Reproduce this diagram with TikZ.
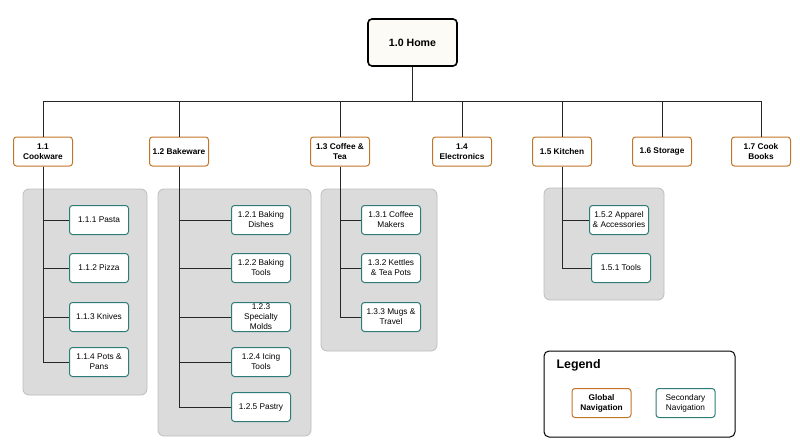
\documentclass[tikz,border=0pt]{standalone}
\usepackage{fontspec}
\setmainfont{Liberation Sans}
\definecolor{navorange}{HTML}{C27429}
\definecolor{navteal}{HTML}{2E7C78}
\definecolor{panelgray}{HTML}{DBDBDB}
\definecolor{paneledge}{HTML}{BDBDBD}
\definecolor{homefill}{HTML}{FDFBF5}

\begin{document}
\begin{tikzpicture}[x=1pt,y=-1pt,
  gnav/.style={draw=navorange,fill=white,rounded corners=3pt,line width=1pt,minimum width=59pt,minimum height=29pt,inner sep=1pt,align=center,font=\fontsize{8.3}{10}\selectfont\bfseries},
  snav/.style={draw=navteal,fill=white,rounded corners=3pt,line width=1pt,minimum width=59pt,minimum height=29pt,inner sep=1pt,align=center,font=\fontsize{8.3}{10}\selectfont},
  panel/.style={fill=panelgray,draw=paneledge,line width=0.8pt,rounded corners=6pt},
  link/.style={draw=black!85,line width=0.9pt}]
  \useasboundingbox (0,0) rectangle (800,444);
  \draw[panel] (23,189) rectangle (147,395);
  \draw[panel] (158,189) rectangle (311,436);
  \draw[panel] (321,189) rectangle (437,351);
  \draw[panel] (544,188) rectangle (664,300);
  \node[draw,fill=homefill,rounded corners=4pt,line width=1.6pt,minimum width=89pt,minimum height=47pt,font=\fontsize{10.6}{12}\selectfont\bfseries] (home) at (412.5,42.5) {1.0 Home};
  \coordinate (bus) at (412.5,101);
  \node[gnav] (g11) at (43,151.5) {1.1\\Cookware};
  \node[gnav] (g12) at (179,151.5) {1.2 Bakeware};
  \node[gnav] (g13) at (340,151.5) {1.3 Coffee \&\\Tea};
  \node[gnav] (g14) at (462,151.5) {1.4\\Electronics};
  \node[gnav] (g15) at (562,151.5) {1.5 Kitchen};
  \node[gnav] (g16) at (662,151.5) {1.6 Storage};
  \node[gnav] (g17) at (761,151.5) {1.7 Cook\\Books};
  \node[snav] (s111) at (99,220) {1.1.1 Pasta};
  \node[snav] (s112) at (99,268) {1.1.2 Pizza};
  \node[snav] (s113) at (99,317) {1.1.3 Knives};
  \node[snav] (s114) at (99,362) {1.1.4 Pots \&\\Pans};
  \node[snav] (s121) at (261,220) {1.2.1 Baking\\Dishes};
  \node[snav] (s122) at (261,268) {1.2.2 Baking\\Tools};
  \node[snav] (s123) at (261,317) {1.2.3\\Specialty\\Molds};
  \node[snav] (s124) at (261,362) {1.2.4 Icing\\Tools};
  \node[snav] (s125) at (261,407) {1.2.5 Pastry};
  \node[snav] (s131) at (391,220) {1.3.1 Coffee\\Makers};
  \node[snav] (s132) at (391,268) {1.3.2 Kettles\\\& Tea Pots};
  \node[snav] (s133) at (391,317) {1.3.3 Mugs \&\\Travel};
  \node[snav] (s152) at (619,220) {1.5.2 Apparel\\\& Accessories};
  \node[snav] (s151) at (621,268) {1.5.1 Tools};
  \draw[link] (home) -- (bus);
  \draw[link] (bus) -| (g11);
  \draw[link] (bus) -| (g12);
  \draw[link] (bus) -| (g13);
  \draw[link] (bus) -| (g14);
  \draw[link] (bus) -| (g15);
  \draw[link] (bus) -| (g16);
  \draw[link] (bus) -| (g17);
  \draw[link] (g11) |- (s111);
  \draw[link] (g11) |- (s112);
  \draw[link] (g11) |- (s113);
  \draw[link] (g11) |- (s114);
  \draw[link] (g12) |- (s121);
  \draw[link] (g12) |- (s122);
  \draw[link] (g12) |- (s123);
  \draw[link] (g12) |- (s124);
  \draw[link] (g12) |- (s125);
  \draw[link] (g13) |- (s131);
  \draw[link] (g13) |- (s132);
  \draw[link] (g13) |- (s133);
  \draw[link] (g15) |- (s152);
  \draw[link] (g15) |- (s151);
  \node[draw,rounded corners=5pt,line width=1pt,minimum width=191pt,minimum height=86pt] (legend) at (639.5,394) {};
  \node[anchor=west,font=\fontsize{12.4}{14}\selectfont\bfseries] (legendtitle) at (553,365) {Legend};
  \node[gnav] (lglobal) at (601.5,403) {Global\\Navigation};
  \node[snav] (lsecond) at (685.5,403) {Secondary\\Navigation};
\end{tikzpicture}
\end{document}
